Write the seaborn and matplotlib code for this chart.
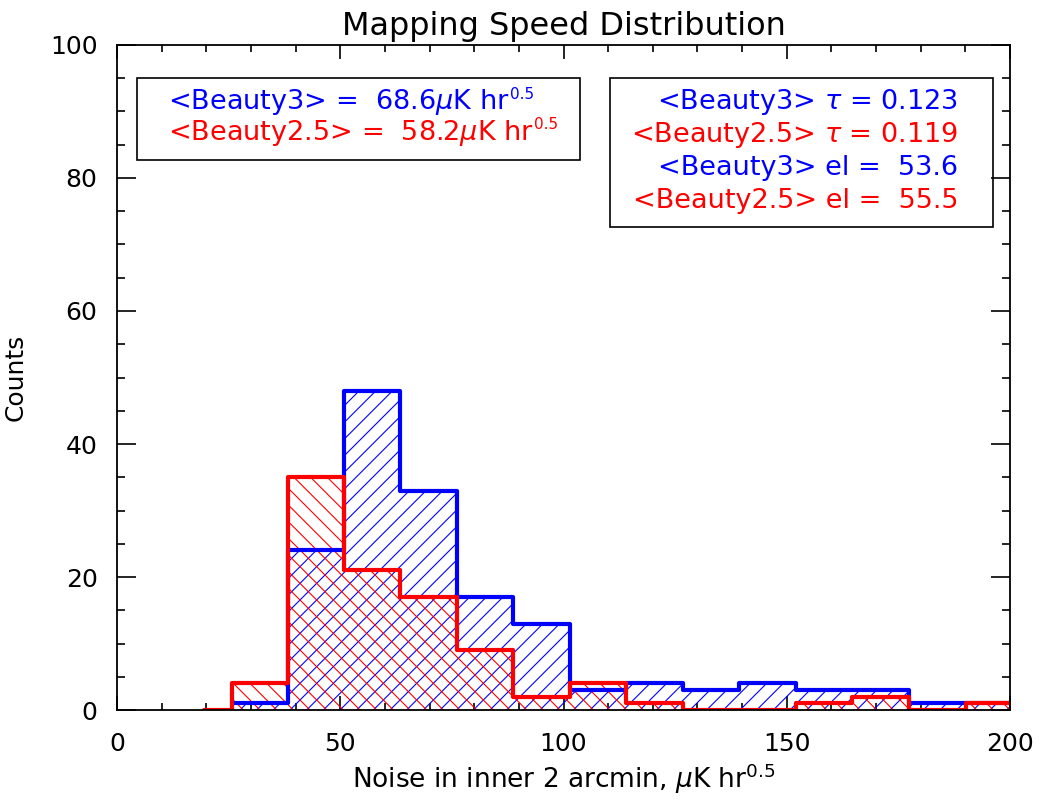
import numpy as np
import pandas as pd
import matplotlib
matplotlib.use("Agg")
import matplotlib.pyplot as plt
from matplotlib.patches import Rectangle
from matplotlib.ticker import MultipleLocator
import seaborn as sns

# ---- data ----
blue_edges = [25.8, 38.3, 50.9, 63.4, 76.1, 88.7, 101.4, 114.1, 126.8,
              139.4, 152.1, 164.7, 177.4, 190.1, 202.8]
blue_counts = [1, 24, 48, 33, 17, 13, 3, 4, 3, 4, 3, 3, 1, 1]

red_edges = [19.5, 25.8, 38.3, 50.9, 63.4, 76.1, 88.7, 101.4, 114.1, 126.8,
             139.4, 152.1, 164.7, 177.4, 190.1, 202.8]
red_counts = [0, 4, 35, 21, 17, 9, 2, 4, 1, 0, 0, 1, 2, 0, 1]

left_box_lines = [r"<Beauty3> =  68.6$\mu$K hr",
                  r"<Beauty2.5> =  58.2$\mu$K hr"]
left_box_sup = "0.5"
right_box_lines = [r"<Beauty3> $\tau$ = 0.123",
                   r"<Beauty2.5> $\tau$ = 0.119",
                   r"<Beauty3> el =  53.6",
                   r"<Beauty2.5> el =  55.5"]
box_colors_left = ["#0000ff", "#ff0000"]
box_colors_right = ["#0000ff", "#ff0000", "#0000ff", "#ff0000"]

x_ticks = [0, 50, 100, 150, 200]
y_ticks = [0, 20, 40, 60, 80, 100]

BLUE = "#0000ff"
RED = "#ff0000"

sns.set_style("ticks")
plt.rcParams["font.family"] = ["DejaVu Sans"]
plt.rcParams["mathtext.fontset"] = "dejavusans"
plt.rcParams["hatch.linewidth"] = 0.8
plt.rcParams["text.color"] = "black"
plt.rcParams["axes.labelcolor"] = "black"
plt.rcParams["axes.titlecolor"] = "black"

fig = plt.figure(figsize=(10.42, 8.02), dpi=100)
ax = fig.add_axes([0.1123, 0.1147, 0.8570, 0.8292])


def centers(edges):
    e = np.asarray(edges, dtype=float)
    return (e[:-1] + e[1:]) / 2


blue_df = pd.DataFrame({"x": centers(blue_edges), "w": blue_counts})
red_df = pd.DataFrame({"x": centers(red_edges), "w": red_counts})

# hatched fills
n0 = len(ax.collections)
sns.histplot(data=blue_df, x="x", weights="w", bins=blue_edges, element="step",
             fill=True, ax=ax, color=BLUE, linewidth=0)
for c in ax.collections[n0:]:
    c.set_facecolor("none")
    c.set_edgecolor(BLUE)
    c.set_hatch("//")
    c.set_linewidth(0)
n0 = len(ax.collections)
sns.histplot(data=red_df, x="x", weights="w", bins=red_edges, element="step",
             fill=True, ax=ax, color=RED, linewidth=0)
for c in ax.collections[n0:]:
    c.set_facecolor("none")
    c.set_edgecolor(RED)
    c.set_hatch("\\\\")
    c.set_linewidth(0)

# outlines
sns.histplot(data=blue_df, x="x", weights="w", bins=blue_edges, element="step",
             fill=False, ax=ax, color=BLUE, linewidth=3)
sns.histplot(data=red_df, x="x", weights="w", bins=red_edges, element="step",
             fill=False, ax=ax, color=RED, linewidth=3)

ax.set_xlim(0, 200)
ax.set_ylim(0, 100)
ax.set_xticks(x_ticks)
ax.set_yticks(y_ticks)
ax.xaxis.set_minor_locator(MultipleLocator(10))
ax.yaxis.set_minor_locator(MultipleLocator(5))
ax.tick_params(axis="both", which="both", direction="in", top=True, right=True,
               colors="black", width=1.2)
ax.tick_params(axis="x", which="major", length=10, pad=16, labelsize=18)
ax.tick_params(axis="x", which="minor", length=5)
ax.tick_params(axis="y", which="major", length=14, pad=14, labelsize=18)
ax.tick_params(axis="y", which="minor", length=6)
for s in ax.spines.values():
    s.set_visible(True)
    s.set_color("black")
    s.set_linewidth(1.3)

ax.set_xlabel(r"Noise in inner 2 arcmin, $\mu$K hr$^{0.5}$", fontsize=19, labelpad=4)
ax.set_ylabel("Counts", fontsize=18, labelpad=16)
ax.set_title("Mapping Speed Distribution", fontsize=23, pad=7)

# annotation boxes
ax.add_patch(Rectangle((0.0224, 0.827), 0.4961, 0.1234, transform=ax.transAxes,
                       fill=False, edgecolor="black", linewidth=1.2, zorder=5))
ax.add_patch(Rectangle((0.552, 0.7263), 0.429, 0.2241, transform=ax.transAxes,
                       fill=False, edgecolor="black", linewidth=1.2, zorder=5))
for txt, col, yy in zip(left_box_lines, box_colors_left, [0.914, 0.8677]):
    t = ax.text(0.0571, yy, txt, color=col, fontsize=19.5, ha="left",
                va="center", transform=ax.transAxes)
    ax.annotate(left_box_sup, xy=(1.0, 1.02), xycoords=t, color=col,
                fontsize=11, ha="left", va="top")
for txt, col, yy in zip(right_box_lines, box_colors_right,
                        [0.914, 0.8647, 0.815, 0.7654]):
    ax.text(0.9418, yy, txt, color=col, fontsize=19.5, ha="right", va="center",
            transform=ax.transAxes)

fig.savefig("out.png", dpi=100)
